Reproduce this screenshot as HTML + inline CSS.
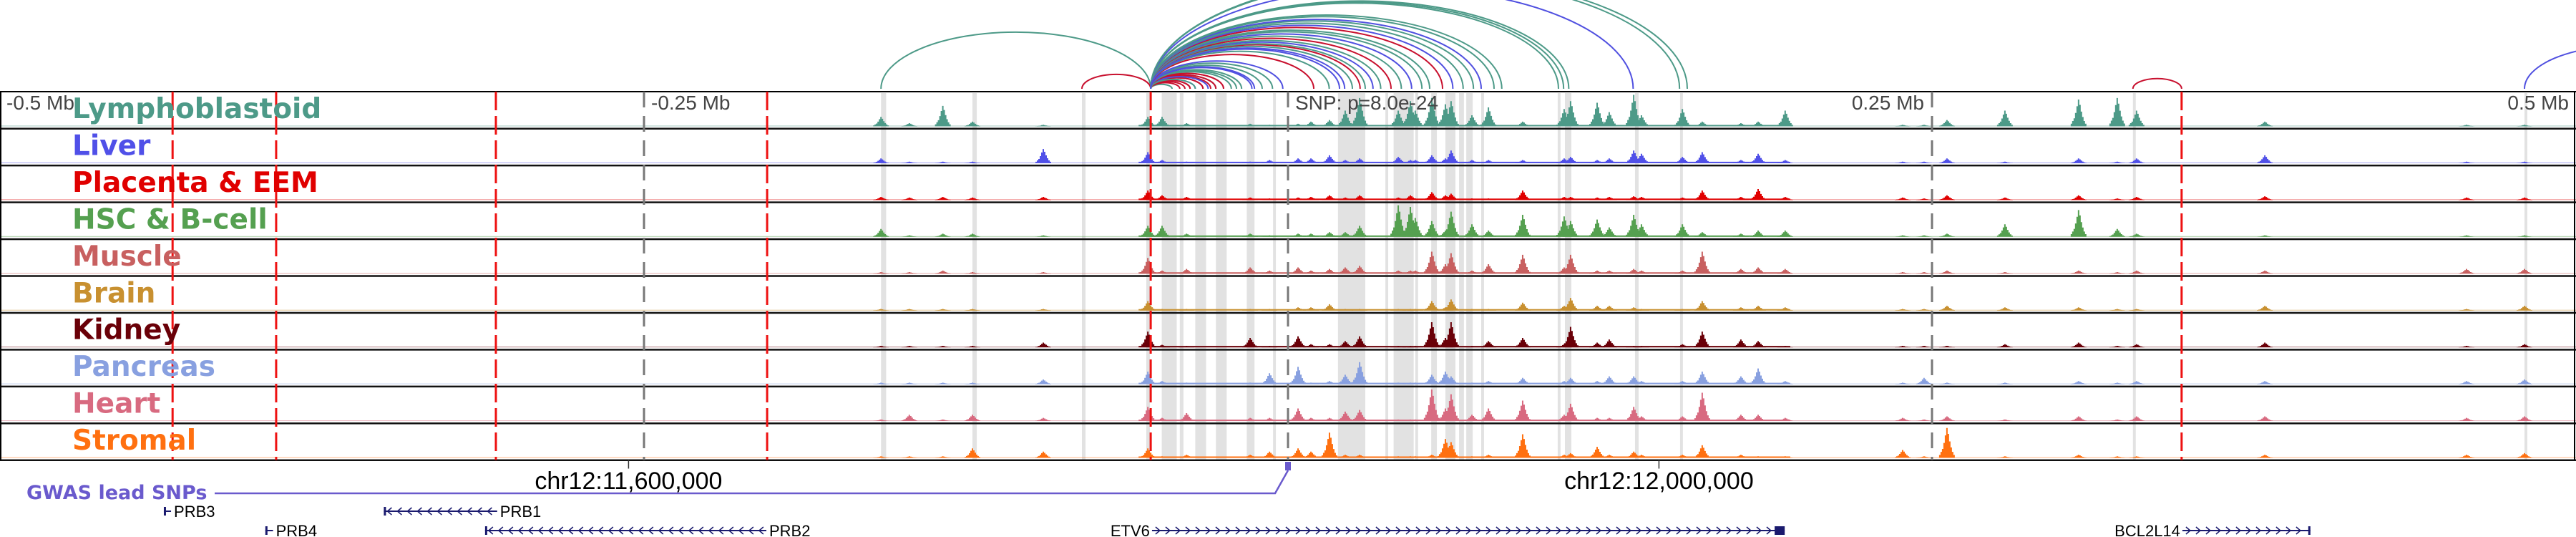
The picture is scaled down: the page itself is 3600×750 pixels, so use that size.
<!DOCTYPE html>
<html><head><meta charset="utf-8">
<style>
html,body{margin:0;padding:0;background:#fff;}
svg{display:block;}
.lab{font-family:"DejaVu Sans","Liberation Sans",sans-serif;font-weight:bold;font-size:39px;}
.tick{font-family:"Liberation Sans",sans-serif;font-size:28px;fill:#444;}
.axis{font-family:"Liberation Sans",sans-serif;font-size:34px;fill:#000;}
.gene{font-family:"Liberation Sans",sans-serif;font-size:22px;fill:#000;}
</style></head>
<body>
<svg id="chart" xmlns="http://www.w3.org/2000/svg" width="3600" height="750" viewBox="0 0 3600 750"></svg>
<script>
// ---- data ----
const trackNames = ["Lymphoblastoid","Liver","Placenta & EEM","HSC & B-cell","Muscle","Brain","Kidney","Pancreas","Heart","Stromal"];
const trackColors = ["#4d9a88","#5050e8","#e00000","#55a050","#c86060","#c89030","#6a0008","#88a0e0","#d86a80","#ff7010"];
const peakKb = [-158,-147,-134,-122.5,-95,-54.4,-48.9,-39.4,-14.7,-7.2,3.9,8.9,16.1,22.2,27.8,42.8,47.5,49.4,55.8,61.1,63.3,71.4,77.8,91.1,107.2,109.7,120,124.7,134.2,137.2,153.1,160.8,175.8,182.5,193,238.6,246.9,255.8,278.3,306.9,321.9,329.4,379.2,457.5,480];
const lymph = [.3,.1,.65,.15,.05,.3,.3,.1,.08,.05,.08,.15,.2,.5,.9,.5,.8,.5,.9,.7,.8,.35,.6,.15,.55,.8,.75,.45,1.0,.35,.55,.15,.1,.15,.5,.05,.05,.2,.5,.85,.9,.5,.15,.05,.05];
const liver = [.15,.05,.05,.05,.45,.35,.1,.05,.05,.1,.15,.15,.25,.1,.15,.2,.1,.1,.25,.15,.4,.1,.1,.1,.15,.2,.1,.15,.4,.3,.2,.35,.1,.3,.1,.05,.05,.15,.05,.15,.05,.15,.25,.05,.05];
const placenta = [.1,.08,.1,.08,.1,.3,.15,.1,.08,.05,.08,.1,.15,.08,.15,.08,.15,.05,.25,.15,.2,.05,.05,.3,.1,.1,.08,.1,.12,.1,.08,.3,.1,.35,.1,.08,.05,.15,.08,.15,.05,.1,.12,.08,.08];
const hsc = [.25,.05,.1,.1,.05,.35,.35,.1,.1,.05,.1,.1,.15,.15,.35,1.0,.95,.6,.5,.2,.8,.4,.2,.7,.65,.5,.55,.3,.7,.4,.4,.15,.1,.2,.2,.05,.05,.1,.4,.85,.25,.1,.05,.05,.05];
const muscle = [.05,.05,.1,.05,.05,.5,.1,.15,.2,.1,.2,.1,.15,.2,.25,.1,.1,.1,.7,.3,.65,.1,.3,.6,.2,.6,.1,.1,.15,.1,.1,.7,.15,.2,.15,.05,.05,.1,.05,.1,.05,.1,.1,.15,.15];
const brain = [.05,.05,.05,.05,.05,.3,.05,.05,.05,.05,.1,.1,.2,.05,.05,.05,.05,.05,.3,.1,.35,.05,.05,.25,.15,.4,.15,.15,.1,.05,.05,.3,.1,.15,.1,.05,.05,.15,.1,.1,.05,.05,.15,.05,.15];
const kidney = [.05,.05,.05,.05,.15,.5,.08,.05,.3,.05,.35,.1,.1,.2,.35,.05,.05,.05,.8,.3,.8,.05,.2,.3,.1,.65,.15,.25,.05,.05,.1,.5,.25,.2,.05,.05,.05,.05,.1,.15,.05,.1,.15,.05,.1];
const pancreas = [.05,.05,.05,.05,.15,.4,.1,.05,.05,.35,.55,.05,.1,.3,.7,.05,.05,.05,.3,.4,.25,.05,.1,.2,.1,.2,.1,.25,.25,.1,.1,.4,.25,.5,.1,.05,.2,.05,.05,.1,.05,.1,.1,.1,.15];
const heart = [.05,.2,.05,.2,.1,.45,.1,.25,.1,.1,.4,.1,.1,.3,.35,.05,.05,.05,1.0,.4,.85,.2,.4,.65,.2,.55,.1,.1,.45,.15,.15,.9,.2,.2,.1,.1,.05,.15,.05,.15,.05,.15,.15,.1,.15];
const stromal = [.05,.05,.05,.3,.2,.3,.05,.1,.1,.2,.3,.2,.8,.1,.1,.05,.05,.05,.1,.6,.5,.05,.1,.75,.1,.15,.35,.1,.2,.1,.1,.4,.1,.05,.05,.25,.05,.95,.05,.1,.05,.05,.1,.1,.15];
const trackValues = [lymph,liver,placenta,hsc,muscle,brain,kidney,pancreas,heart,stromal];
const highlightKb = [-158,-122.5,-80,-55,-49,-42,-36,-28,-16,-14.3,-5.8,19.4,28.9,37.8,41,49.4,55.6,61.1,66.4,69.2,75,104.7,107.5,134.7,152.2,328,480];
const highlightWKb = [2,1.7,1.4,1.4,5.8,1.4,4.2,4.2,3,1.1,1.1,10.5,1.1,1.1,7.8,1.1,2.2,3.9,1.9,2.5,1.1,1.1,2.5,1.4,1.1,1.1,1.1];
const redLineKb = [-433,-392.8,-307.5,-202.2,-53.3,346.9];
const greyLineKb = [-250,0,250];
const arcStartKb = [-53.3,-53.3,-53.3,-53.3,-53.3,-53.3,-53.3,-53.3,-53.3,-53.3,-53.3,-53.3,-53.3,-53.3,-53.3,-53.3,-53.3,-53.3,-53.3,-53.3,-53.3,-53.3,-53.3,-53.3,-53.3,-53.3,-53.3,-53.3,-53.3,-53.3,-53.3,-53.3,-53.3,-53.3,-53.3,-53.3,-53.3,-53.3,-53.3,-53.3,-53.3,-53.3,-53.3,-53.3,-53.3,-53.3,-53.3,-53.3,-53.3,-53.3,-53.3,-53.3,328,480];
const arcEndKb = [-158,-80,-45,-42,-40,-38,-36,-33,-30,-28,-25,-22,-18,-14,-10,-6,-2,-28,-33,-38,-31,-25,-36,-20,-13,10,16,22,25,28,30,33,36,40,44,48,52,55,60,64,68,72,75,80,83,105,107,109,134,152,155,20,346.9,560];
const arcType = ["t","r","t","r","r","r","b","r","r","t","r","t","t","b","t","t","b","r","r","r","b","r","t","t","b","r","t","b","t","r","t","b","t","r","t","b","t","t","r","b","t","t","b","t","t","t","t","t","b","t","t","b","r","b"];
const arcColorMap = {t:"#4d9a88", b:"#5050e0", r:"#c8102e"};
const axisLabelsKb = [-256, 144];
const axisLabels = ["chr12:11,600,000","chr12:12,000,000"];
const rulerKb = [-500,-250,0,250,500];
const rulerLabels = ["-0.5 Mb","-0.25 Mb","SNP: p=8.0e-24","0.25 Mb","0.5 Mb"];
const geneNames = ["PRB3","PRB1","PRB4","PRB2","ETV6","BCL2L14"];
const geneStartKb = [-436.4,-351,-397,-311.7,-52.8,347.2];
const geneEndKb = [-433.6,-307,-394,-202.5,192.8,396.9];
const geneStrand = [-1,-1,-1,-1,1,1];
const geneRow = [0,0,1,1,1,1];
const geneLabelSide = [1,1,1,1,-1,-1];

// ---- scales / layout ----
const NS = "http://www.w3.org/2000/svg";
const svg = document.getElementById("chart");
const X0 = 1800, PXKB = 3.6;
function xs(kb){ return X0 + kb*PXKB; }
const TOP = 128, TH = 51.45, NT = trackNames.length, BOT = TOP + TH*NT;
function ys(t, v){ return TOP + TH*(t+1) - 3 - v*44; }
function mk(tag, attrs, parent){ const e=document.createElementNS(NS,tag); for(const k in attrs) e.setAttribute(k, attrs[k]); (parent||svg).appendChild(e); return e; }

// highlight bands
const gBands = mk("g",{});


highlightKb.forEach((kb,i)=>{
  const r = mk("rect",{x:xs(kb), y:TOP+2, width:Math.max(3,highlightWKb[i]*PXKB), height:BOT-TOP-3, fill:"#e2e2e2"}, gBands);
  
  
});

// arcs
const gArcs = mk("g",{});


arcEndKb.forEach((e,i)=>{
  const a = xs(arcStartKb[i]), b = xs(e);
  const x1 = Math.min(a,b), x2 = Math.max(a,b);
  const rx = (x2-x1)/2, ry = rx*0.42;
  const p = mk("path",{d:`M${x1},124 A${rx},${ry} 0 0 1 ${x2},124`, fill:"none", stroke:arcColorMap[arcType[i]], "stroke-width":2}, gArcs);
  
  
});

// tracks
const kernel = [0.1,0.2,0.3,0.5,0.75,1,0.8,0.55,0.35,0.2,0.1];
for(let t=0;t<NT;t++){
  const g = mk("g",{});
  
  
  const base = ys(t,0);
  const bl = mk("rect",{x:xs(-58), y:base-2, width:xs(195)-xs(-58), height:2, fill:trackColors[t]}, g);
  
  
  const bl2 = mk("rect",{x:xs(-500), y:base-1, width:3600, height:1, fill:trackColors[t], opacity:0.5}, g);
  
  
  trackValues[t].forEach((v,i)=>{
    const cx = xs(peakKb[i]);
    const half = kernel.length;
    let d = `M${cx-half},${base}`;
    kernel.forEach((k,j)=>{
      const x = cx-half+j*2; const y = ys(t, v*k);
      d += ` L${x},${y} L${x+2},${y}`;
    });
    d += ` L${cx-half+kernel.length*2},${base} Z`;
    const p = mk("path",{d:d, fill:trackColors[t]}, g);
    
    
  });
  const sep = mk("rect",{x:0, y:TOP+TH*(t+1)-1, width:3600, height:2.5, fill:"#111"}, g);
  
  
}

const tb = mk("rect",{x:0,y:TOP-1,width:3600,height:2,fill:"#000"});


const lb = mk("rect",{x:0,y:TOP,width:2,height:BOT-TOP,fill:"#000"});


const rb = mk("rect",{x:3597,y:TOP,width:2,height:BOT-TOP,fill:"#000"});



greyLineKb.forEach(kb=>{
  const l = mk("line",{x1:xs(kb),x2:xs(kb),y1:TOP,y2:BOT,stroke:"#777","stroke-width":3,"stroke-dasharray":"22,12"});
  
  
});
redLineKb.forEach(kb=>{
  const l = mk("line",{x1:xs(kb),x2:xs(kb),y1:TOP,y2:BOT,stroke:"#ee1111","stroke-width":3,"stroke-dasharray":"26,8"});
  
  
});

rulerKb.forEach((kb,i)=>{
  let x, anchor = "end";
  if(i===0){x = 9; anchor="start";}
  else if(i===2){x = xs(kb)+10; anchor="start";}
  else if(i===4){x = 3590;}
  else if(i===1){x = xs(kb)+10; anchor="start";}
  else {x = xs(kb)-11;}
  const tx = mk("text",{x:x,y:153,"text-anchor":anchor,class:"tick"});
  tx.textContent = rulerLabels[i];
  
  
});

trackNames.forEach((n,t)=>{
  const tx = mk("text",{x:101,y:TOP+TH*t+37,fill:trackColors[t],class:"lab"});
  tx.textContent = n;
  
  
});

axisLabelsKb.forEach((kb,i)=>{
  const tk = mk("line",{x1:xs(kb),x2:xs(kb),y1:BOT,y2:BOT+12,stroke:"#333","stroke-width":1.5});
  
  
  const tx = mk("text",{x:xs(kb),y:683,"text-anchor":"middle",class:"axis"});
  tx.textContent = axisLabels[i];
  
  
});

const gw = mk("text",{x:37,y:697,fill:"#6a5acd","font-family":"DejaVu Sans, Liberation Sans, sans-serif","font-weight":"bold","font-size":"27px"});
gw.textContent = "GWAS lead SNPs";


const gl = mk("path",{d:`M300,689 L${xs(-5)},689 L${xs(0)},657`,fill:"none",stroke:"#6a5acd","stroke-width":2.5});


const gs = mk("rect",{x:xs(0)-4,y:645,width:8,height:12,fill:"#6a5acd"});



geneNames.forEach((n,i)=>{
  const g = mk("g",{});
  
  
  const y = geneRow[i]===0 ? 714 : 741;
  const x1 = xs(geneStartKb[i]), x2 = xs(geneEndKb[i]);
  mk("line",{x1:x1,x2:x2,y1:y,y2:y,stroke:"#1a1a6e","stroke-width":2},g);
  mk("rect",{x:geneStrand[i]<0?x1:x2-3,y:y-6,width:3,height:12,fill:"#1a1a6e"},g);
  if(n==="ETV6") mk("rect",{x:x2-14,y:y-6,width:14,height:12,fill:"#1a1a6e"},g);
  for(let x=x1+8; x<x2-6; x+=14){
    const s = geneStrand[i];
    mk("path",{d:`M${x-3*s},${y-5} L${x+3*s},${y} L${x-3*s},${y+5}`,fill:"none",stroke:"#1a1a6e","stroke-width":1.5},g);
  }
  const tx = mk("text",{x:geneLabelSide[i]>0? x2+4 : x1-3, y:y+8, "text-anchor":geneLabelSide[i]>0?"start":"end", class:"gene"},g);
  tx.textContent = n;
  
  
});
</script>
</body></html>
